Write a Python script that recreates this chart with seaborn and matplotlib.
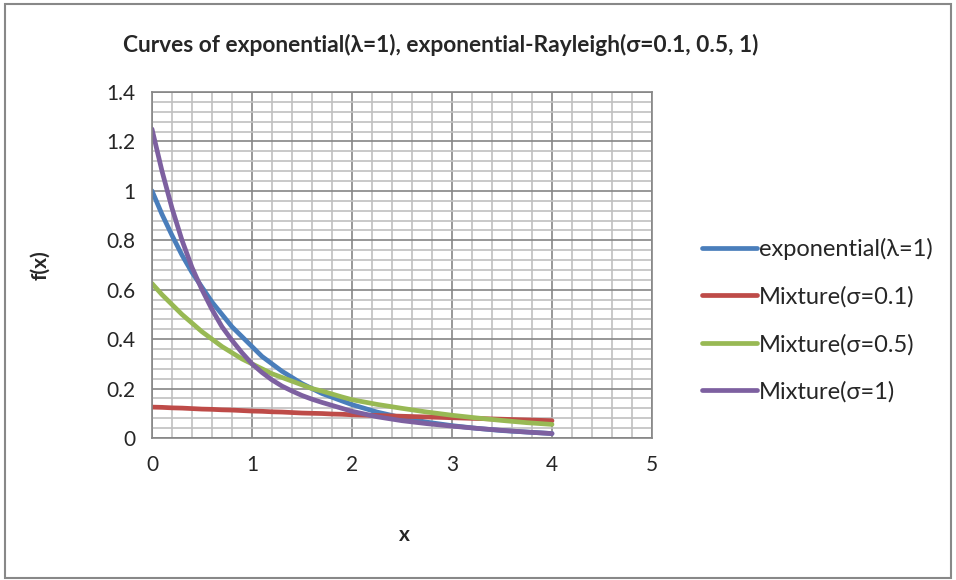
import numpy as np
import pandas as pd
import matplotlib
matplotlib.use('Agg')
import matplotlib.pyplot as plt
from matplotlib.patches import Rectangle
from matplotlib.ticker import MultipleLocator
import seaborn as sns

# values
x = [0, 0.1, 0.2, 0.3, 0.4, 0.5, 0.6, 0.7, 0.8, 0.9, 1.0,
     1.1, 1.2, 1.3, 1.4, 1.5, 1.6, 1.7, 1.8, 1.9, 2.0,
     2.25, 2.5, 2.75, 3.0, 3.25, 3.5, 3.75, 4.0]
expo = [1.0, 0.905, 0.82, 0.74, 0.67, 0.61, 0.55, 0.50, 0.45, 0.41, 0.37,
        0.33, 0.30, 0.27, 0.245, 0.22, 0.2, 0.18, 0.165, 0.15, 0.135,
        0.105, 0.082, 0.064, 0.05, 0.039, 0.03, 0.024, 0.018]
mix01 = [0.125, 0.124, 0.122, 0.121, 0.119, 0.117, 0.116, 0.114, 0.113, 0.111, 0.109,
         0.108, 0.106, 0.105, 0.103, 0.101, 0.1, 0.099, 0.097, 0.096, 0.094,
         0.091, 0.088, 0.085, 0.082, 0.079, 0.076, 0.073, 0.07]
mix05 = [0.625, 0.58, 0.54, 0.50, 0.465, 0.43, 0.40, 0.37, 0.345, 0.32, 0.30,
         0.28, 0.26, 0.245, 0.23, 0.215, 0.2, 0.19, 0.178, 0.166, 0.155,
         0.136, 0.12, 0.105, 0.092, 0.081, 0.071, 0.062, 0.055]
mix1 = [1.25, 1.08, 0.93, 0.80, 0.69, 0.60, 0.52, 0.45, 0.395, 0.345, 0.30,
        0.265, 0.235, 0.21, 0.19, 0.172, 0.157, 0.144, 0.132, 0.12, 0.108,
        0.086, 0.07, 0.058, 0.048, 0.039, 0.031, 0.024, 0.018]

names = ['exponential(λ=1)', 'Mixture(σ=0.1)', 'Mixture(σ=0.5)', 'Mixture(σ=1)']
series = [expo, mix01, mix05, mix1]
colors = ['#4A7EBB', '#BE4B48', '#98B954', '#7D60A0']

sns.set_style('white')
plt.rcParams['font.family'] = ['Lato', 'DejaVu Sans']

fig = plt.figure(figsize=(9.56, 5.8), dpi=100)
ax = fig.add_axes([152/956, 142/580, 500/956, 346/580])

for name, vals, c in zip(names, series, colors):
    sns.lineplot(x=x, y=vals, ax=ax, color=c, linewidth=3.4, label=name)

ax.set_xlim(0, 5)
ax.set_ylim(0, 1.4)
ax.xaxis.set_major_locator(MultipleLocator(1))
ax.xaxis.set_minor_locator(MultipleLocator(0.2))
ax.yaxis.set_major_locator(MultipleLocator(0.2))
ax.yaxis.set_minor_locator(MultipleLocator(0.04))
ax.grid(which='minor', color='#C0C0C0', linewidth=1.2)
ax.grid(which='major', color='#868686', linewidth=1.2)
ax.set_axisbelow(True)
for s in ax.spines.values():
    s.set_color('#868686')
    s.set_linewidth(1.2)
ax.tick_params(which='major', length=5, color='#868686', labelsize=15, pad=7)
ax.tick_params(which='minor', length=0)
ax.set_yticks(np.arange(0, 1.41, 0.2))
ax.set_yticklabels(['0', '0.2', '0.4', '0.6', '0.8', '1', '1.2', '1.4'])

ax.set_xlabel('x', fontsize=15, fontweight='bold')
ax.set_ylabel('f(x)', fontsize=15, fontweight='bold')
ax.xaxis.set_label_coords(0.504, -0.28)
ax.yaxis.set_label_coords(-0.224, 0.5)
ax.xaxis.label.set_va('center')
ax.yaxis.label.set_va('center')
fig.text(0.461, 0.922, 'Curves of exponential(λ=1), exponential-Rayleigh(σ=0.1, 0.5, 1)',
         ha='center', va='center', fontsize=16.4, fontweight='bold')

ax.legend(loc='center left', bbox_to_anchor=(1.058, 0.34), frameon=False, fontsize=17,
          handlelength=2.3, handletextpad=0.1, labelspacing=1.1)

fig.patches.append(Rectangle((5/956, 2/580), 946/956, 574/580, transform=fig.transFigure,
                             fill=False, edgecolor='#888888', linewidth=1.5))

fig.savefig('out.png', dpi=100)
